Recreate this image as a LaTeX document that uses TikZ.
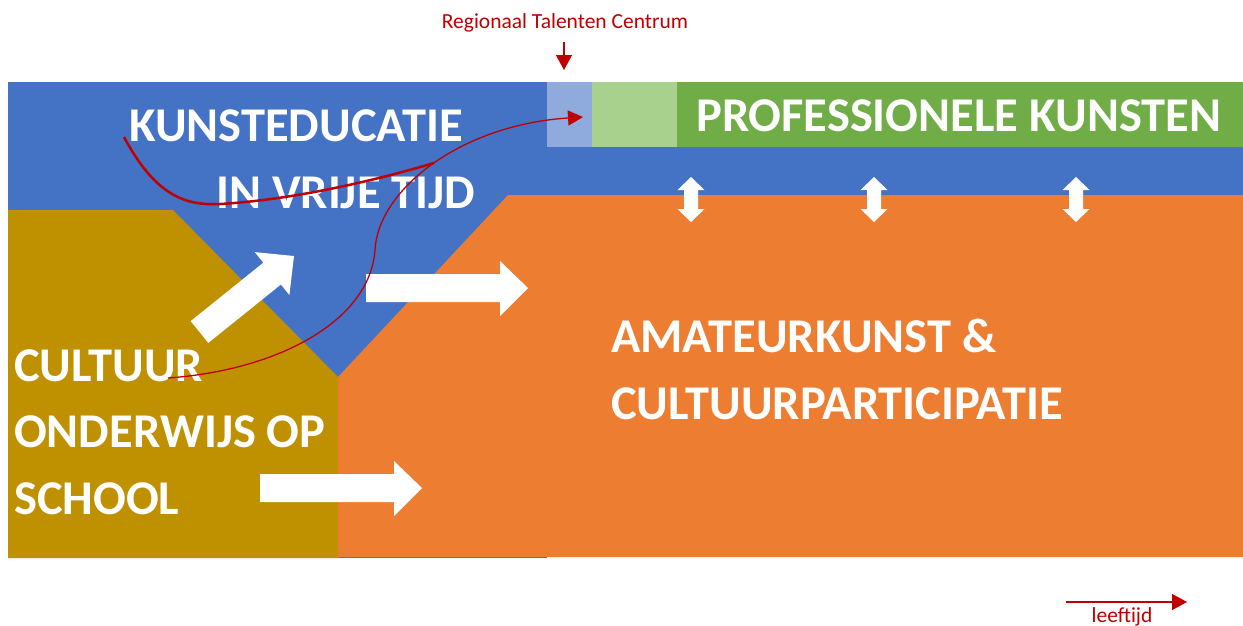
\documentclass[tikz,border=0pt]{standalone}
\usepackage{fontspec}
\setmainfont{Carlito}
\usetikzlibrary{arrows.meta}
\definecolor{kblue}{HTML}{4472C4}
\definecolor{korange}{HTML}{ED7D31}
\definecolor{kgold}{HTML}{BF9000}
\definecolor{kgreen}{HTML}{70AD47}
\definecolor{klgreen}{HTML}{A9D18E}
\definecolor{klblue}{HTML}{8FAADC}
\definecolor{kred}{HTML}{C00000}
\begin{document}
\begin{tikzpicture}[x=1pt,y=-1pt,
  bigtxt/.style={text=white,font=\fontsize{48.5}{48.5}\selectfont\bfseries,inner sep=0pt,anchor=base west},
  redtxt/.style={text=kred,font=\fontsize{21.5}{21.5}\selectfont,inner sep=0pt,anchor=base},
  redarrow/.style={draw=kred,line width=1.3pt,-{Triangle[length=15pt,width=16pt]}},
  thickcurve/.style={draw=kred,line width=2.5pt},
  thincurve/.style={draw=kred,line width=1.3pt,-{Triangle[length=15pt,width=15pt]}},
  whitearrow/.style={fill=white}]
\useasboundingbox (0,0) rectangle (1243,625);
\fill[white] (0,0) rectangle (1243,625);
% regions
\fill[kblue] (8,82) rectangle (547,558);
\fill[kblue] (547,82) rectangle (1243,195);
\fill[klblue] (547,82) rectangle (592,147);
\fill[klgreen] (592,82) rectangle (677,147);
\fill[kgreen] (677,82) rectangle (1243,147);
\fill[korange] (338,377) -- (508,195) -- (1243,195) -- (1243,557) -- (338,557) -- cycle;
\fill[kgold] (8,210) -- (173,210) -- (338,377) -- (338,558) -- (8,558) -- cycle;
% white arrows
\fill[whitearrow] (190.7,321.1) -- (263.3,262.7) -- (254.8,252.1) -- (294,256) -- (289.4,295.1) -- (280.9,284.5) -- (208.3,342.9) -- cycle;
\fill[whitearrow] (366,274) -- (500,274) -- (500,261) -- (528,288) -- (500,316) -- (500,302) -- (366,302) -- cycle;
\fill[whitearrow] (260,474) -- (394,474) -- (394,461) -- (422,488) -- (394,516) -- (394,502) -- (260,502) -- cycle;
\foreach \x in {691,874,1076}
  \fill[whitearrow] (\x,177) -- (\x+13.5,190) -- (\x+7,190) -- (\x+7,209) -- (\x+13.5,209) -- (\x,222) -- (\x-13.5,209) -- (\x-7,209) -- (\x-7,190) -- (\x-13.5,190) -- cycle;
% texts
\node[bigtxt] (kunst) at (129,141) {KUNSTEDUCATIE};
\node[bigtxt] (vrij) at (216,208) {IN VRIJE TIJD};
\node[bigtxt] (prof) at (696,131) {PROFESSIONELE KUNSTEN};
\node[bigtxt] (amat) at (611,352) {AMATEURKUNST \&};
\node[bigtxt] (part) at (611,419) {CULTUURPARTICIPATIE};
\node[bigtxt] (cult) at (14,381) {CULTUUR};
\node[bigtxt] (ondw) at (14,447) {ONDERWIJS OP};
\node[bigtxt] (school) at (14,514) {SCHOOL};
\node[redtxt] (rtc) at (565,28) {Regionaal Talenten Centrum};
\node[redtxt] (leef) at (1122,622) {leeftijd};
% red connectors
\coordinate (rtcA) at (564,42);
\coordinate (rtcB) at (564,70);
\draw[redarrow] (rtcA) -- (rtcB);
\coordinate (leefA) at (1066,602);
\coordinate (leefB) at (1187,602);
\draw[redarrow] (leefA) -- (leefB);
\coordinate (c1a) at (124,137);
\coordinate (c1b) at (220,204);
\coordinate (c1c) at (434,163);
\draw[thickcurve] (c1a) .. controls (155,195) and (185,206) .. (c1b) .. controls (290,200) and (370,182) .. (c1c);
\coordinate (c2a) at (168,378);
\coordinate (c2b) at (375,250);
\coordinate (c2c) at (583,117);
\draw[thincurve] (c2a) .. controls (280,370) and (370,320) .. (c2b) .. controls (378,190) and (460,125) .. (c2c);
\end{tikzpicture}
\end{document}
